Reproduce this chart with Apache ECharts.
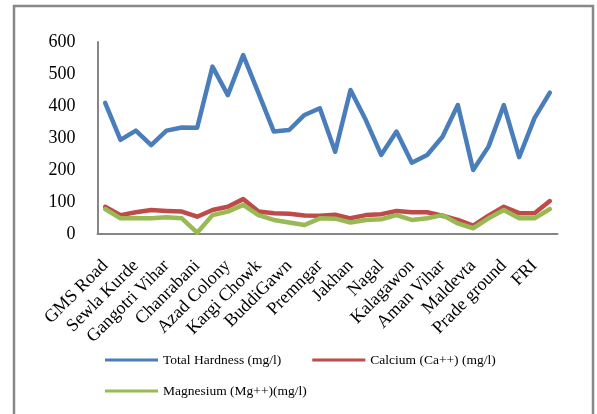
<!DOCTYPE html>
<html>
<head>
<meta charset="utf-8">
<script src="https://cdn.jsdelivr.net/npm/echarts@6/dist/echarts.min.js"></script>
<style>
    html, body { margin: 0; padding: 0; background: #fff; }
    #chart { width: 597px; height: 414px; }
</style>
</head>
<body>
<div id="chart"></div>
<script>
// only every other site name is printed on the axis of the original
const sites = [
    "GMS Road", "", "Sewla Kurde", "", "Gangotri Vihar", "", "Chanrabani", "",
    "Azad Colony", "", "Kargi Chowk", "", "BuddiGawn", "", "Premngar", "",
    "Jakhan", "", "Nagal", "", "Kalagawon", "", "Aman Vihar", "", "Maldevta", "",
    "Prade ground", "", "FRI", "",
]
const totalHardness = [
    410, 294, 323, 278, 323, 333, 332, 523, 434, 559,
    440, 320, 325, 372, 393, 257, 450, 356, 247, 320,
    223, 247, 304, 403, 200, 273, 403, 240, 362, 442,
]
const calcium = [
    85, 59, 68, 75, 72, 70, 54, 75, 85, 109,
    70, 65, 63, 58, 57, 60, 49, 59, 62, 72,
    68, 68, 57, 44, 26, 57, 85, 65, 65, 103,
]
const magnesium = [
    78, 49, 49, 49, 52, 49, 4, 59, 70, 91,
    59, 44, 36, 28, 49, 48, 36, 44, 46, 59,
    44, 49, 59, 33, 18, 49, 75, 49, 49, 78,
]
const yTicks = [0, 100, 200, 300, 400, 500, 600]

const serif = "'Liberation Serif', 'Times New Roman', serif"
const colors = ["#4A7EBB", "#BE4B48", "#98B954"]
const names = ["Total Hardness (mg/l)", "Calcium (Ca++) (mg/l)", "Magnesium (Mg++)(mg/l)"]

function lineSeries(name, data, color) {
    return {
        name: name,
        type: "line",
        data: data,
        symbol: "none",
        smooth: false,
        lineStyle: { color: color, width: 4.5, cap: "round", join: "round" },
        itemStyle: { color: color },
    }
}

const legendBase = {
    icon: "rect",
    itemWidth: 53,
    itemHeight: 3,
    itemGap: 31,
    padding: 0,
    textStyle: { color: "#000", fontFamily: serif, fontSize: 13.5 },
}

let myChart = echarts.init(document.getElementById("chart"))
myChart.setOption({
    animation: false,
    backgroundColor: "#fff",
    graphic: [
        {
            type: "rect",
            shape: { x: 14, y: 6, width: 579, height: 430 },
            style: { fill: "none", stroke: "#888", lineWidth: 2.5 },
            silent: true,
        },
    ],
    grid: { left: 97.5, right: 39.5, top: 42, bottom: 180 },
    legend: [
        Object.assign({}, legendBase, { data: [names[0], names[1]], left: 105, top: 353 }),
        Object.assign({}, legendBase, { data: [names[2]], left: 105, top: 384 }),
    ],
    xAxis: {
        type: "category",
        data: sites,
        boundaryGap: true,
        axisLine: { lineStyle: { color: "#868686", width: 2 } },
        axisTick: { show: false },
        axisLabel: {
            interval: 0,
            rotate: 45,
            margin: 29,
            color: "#000",
            fontFamily: serif,
            fontSize: 18,
        },
    },
    yAxis: {
        type: "value",
        min: yTicks[0],
        max: yTicks[yTicks.length - 1],
        interval: 100,
        splitLine: { show: false },
        axisLine: { show: true, lineStyle: { color: "#868686", width: 2 } },
        axisTick: { show: false },
        axisLabel: { margin: 22, color: "#000", fontFamily: serif, fontSize: 18 },
    },
    series: [
        lineSeries(names[0], totalHardness, colors[0]),
        lineSeries(names[1], calcium, colors[1]),
        lineSeries(names[2], magnesium, colors[2]),
    ],
})
</script>
</body>
</html>
